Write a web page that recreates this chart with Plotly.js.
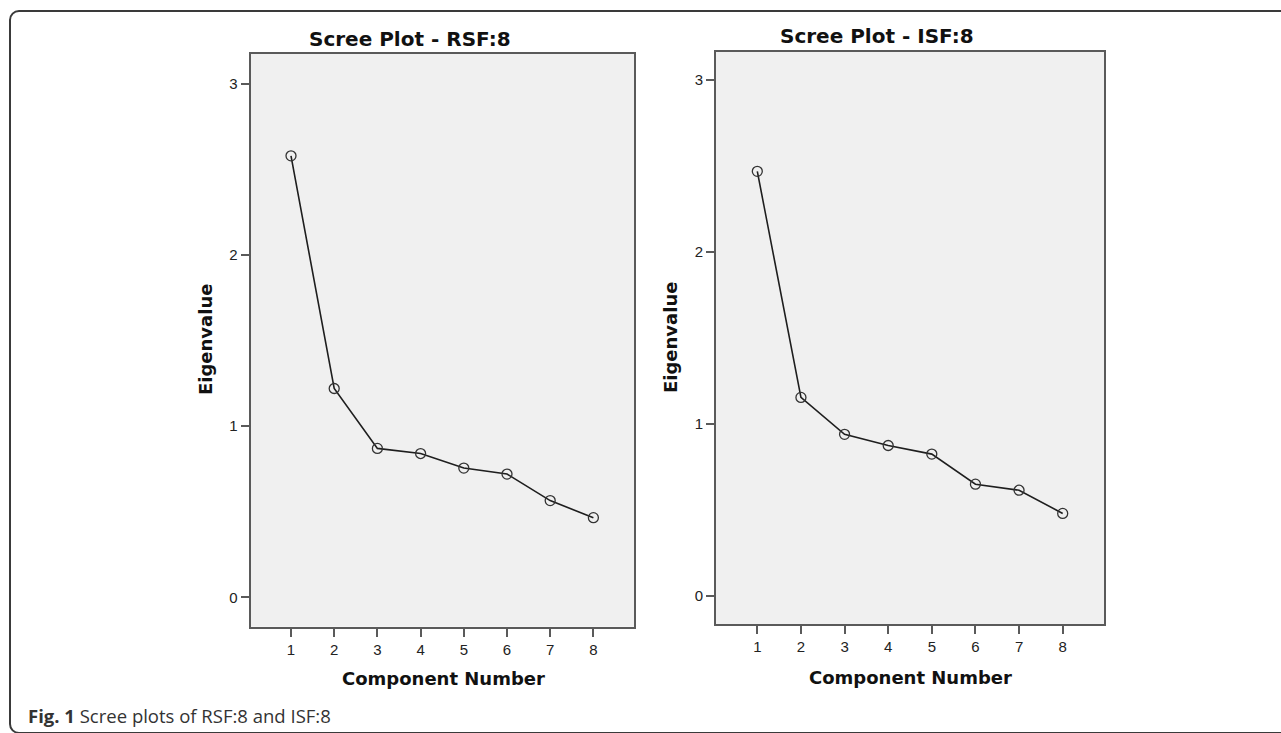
<!DOCTYPE html>
<html>
<head>
<meta charset="utf-8">
<script src="https://cdn.plot.ly/plotly-3.0.1.min.js"></script>
<style>
  html, body { margin: 0; padding: 0; background: #ffffff; }
  #frame { position: absolute; left: 9px; top: 10px; width: 1300px; height: 720px;
           border: 2px solid #3a3a3a; border-radius: 10px; }
  #chart { position: absolute; left: 0; top: 0; width: 1281px; height: 733px; }
</style>
</head>
<body>
<div id="frame"></div>
<div id="chart"></div>
<script>
// ---- data ----
const components = [1, 2, 3, 4, 5, 6, 7, 8];
const rsfEigenvalues = [2.58, 1.22, 0.87, 0.84, 0.755, 0.72, 0.565, 0.465];
const isfEigenvalues = [2.47, 1.155, 0.94, 0.875, 0.825, 0.65, 0.615, 0.48];
const yTicks = [0, 1, 2, 3];
const leftTitle = 'Scree Plot - RSF:8';
const rightTitle = 'Scree Plot - ISF:8';
const xTitle = 'Component Number';
const yTitle = 'Eigenvalue';
const caption = '<b>Fig. 1</b> Scree plots of RSF:8 and ISF:8';

// ---- layout helpers (pixel -> paper) ----
const W = 1281, H = 733;
const px = v => v / W;
const py = v => 1 - v / H;

const lineStyle = { color: '#1e1e1e', width: 1.6 };
const markerStyle = { symbol: 'circle-open', size: 10, color: '#333333', line: { width: 1.3, color: '#333333' } };

const traces = [
  { x: components, y: rsfEigenvalues, xaxis: 'x', yaxis: 'y', type: 'scatter', mode: 'lines+markers',
    line: lineStyle, marker: markerStyle, hoverinfo: 'skip' },
  { x: components, y: isfEigenvalues, xaxis: 'x2', yaxis: 'y2', type: 'scatter', mode: 'lines+markers',
    line: lineStyle, marker: markerStyle, hoverinfo: 'skip' }
];

const tickFont = { family: 'Liberation Sans, Arial, sans-serif', size: 15, color: '#222222' };
const axisCommon = {
  showline: true, linecolor: '#5a5a5a', linewidth: 2, mirror: true,
  ticks: 'outside', ticklen: 8, tickwidth: 2, tickcolor: '#5a5a5a',
  showgrid: false, zeroline: false, tickfont: tickFont, fixedrange: true
};

const titleFont = { family: 'DejaVu Sans, sans-serif', size: 20, color: '#111111' };
const axTitleFont = { family: 'DejaVu Sans, sans-serif', size: 18, color: '#111111' };

function ann(text, x, y, font, extra) {
  return Object.assign({ text: text, x: px(x), y: py(y), xref: 'paper', yref: 'paper',
    xanchor: 'center', yanchor: 'middle', showarrow: false, font: font }, extra || {});
}

const layout = {
  width: W, height: H,
  margin: { l: 0, r: 0, t: 0, b: 0 },
  paper_bgcolor: 'rgba(0,0,0,0)',
  plot_bgcolor: '#f0f0f0',
  showlegend: false,
  xaxis: Object.assign({}, axisCommon, { domain: [px(250.7), px(634)], range: [0.067, 8.94],
    tickvals: components, anchor: 'y' }),
  yaxis: Object.assign({}, axisCommon, { domain: [py(626.7), py(54)], range: [-0.172, 3.175],
    tickvals: yTicks, anchor: 'x', ticklabelstandoff: 0 }),
  xaxis2: Object.assign({}, axisCommon, { domain: [px(716), px(1104)], range: [0.053, 8.947],
    tickvals: components, anchor: 'y2' }),
  yaxis2: Object.assign({}, axisCommon, { domain: [py(624.3), py(51.7)], range: [-0.165, 3.166],
    tickvals: yTicks, anchor: 'x2', ticklabelstandoff: 0 }),
  annotations: [
    ann('<b>' + leftTitle + '</b>', 410, 39, titleFont),
    ann('<b>' + rightTitle + '</b>', 877, 36, titleFont),
    ann('<b>' + xTitle + '</b>', 443, 678, axTitleFont),
    ann('<b>' + xTitle + '</b>', 910, 677, axTitleFont),
    ann('<b>' + yTitle + '</b>', 205, 340, axTitleFont, { textangle: -90 }),
    ann('<b>' + yTitle + '</b>', 671, 338, axTitleFont, { textangle: -90 }),
    ann(caption, 26, 715, { family: 'Open Sans, sans-serif', size: 18.5, color: '#333333' }, { xanchor: 'left' })
  ]
};

Plotly.newPlot('chart', traces, layout, { displayModeBar: false, staticPlot: true });
</script>
</body>
</html>
